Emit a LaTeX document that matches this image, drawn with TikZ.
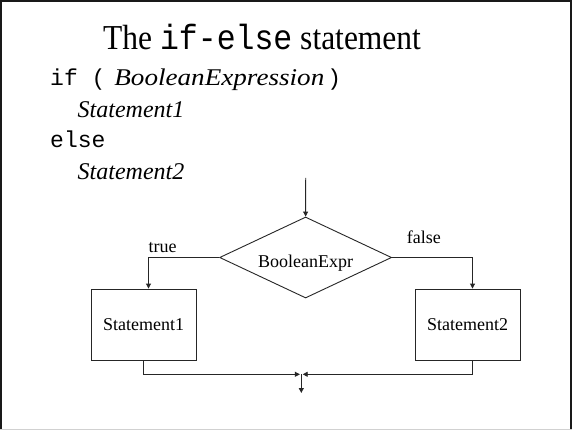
\documentclass[tikz,border=0pt]{standalone}
\usepackage{fontspec}
\setmainfont{Liberation Serif}
\setmonofont{Liberation Mono}
\usetikzlibrary{shapes.geometric,arrows.meta}
\begin{document}
\begin{tikzpicture}[x=1pt,y=-1pt,
  conn/.style={line width=0.9pt,draw=black!85},
  arr/.style={conn,-{Triangle[length=5pt,width=5pt]}},
  stmtbox/.style={draw=black!85,line width=0.9pt,minimum width=105pt,minimum height=71pt,inner sep=0pt,font=\fontsize{18}{20}\selectfont},
  cond/.style={draw=black!85,line width=0.9pt,diamond,minimum width=172pt,minimum height=81pt,inner sep=0pt},
  lbl/.style={font=\fontsize{18}{20}\selectfont,inner sep=0pt,anchor=base west},
  code/.style={inner sep=0pt,anchor=base west,font=\fontsize{23}{26}\selectfont},
  itcode/.style={inner sep=0pt,anchor=base west,font=\fontsize{24}{26}\selectfont\itshape}
]
\useasboundingbox (0,0) rectangle (572,430);
\fill[white] (0,0) rectangle (572,430);
% frame
\draw[line width=1.8pt,black!90] (1,430) -- (1,1) -- (571,1) -- (571,430);
\draw[line width=1pt,black!18] (0,429.5) -- (572,429.5);
% title
\node[inner sep=0pt,anchor=base west,font=\fontsize{35}{38}\selectfont] (title) at (103,49.3) {\scalebox{0.9}[1]{The \texttt{if-else} statement}};
% code
\node[code] (l1) at (50,86) {\texttt{if (}\hspace{9pt}{\fontsize{24}{26}\selectfont\itshape\scalebox{1.13}[1]{BooleanExpression}}\hspace{3pt}\texttt{)}};
\node[itcode] (l2) at (77.5,117.3) {Statement1};
\node[code] (l3) at (50,148) {\texttt{else}};
\node[itcode] (l4) at (77.5,179.5) {Statement2};
% flowchart
\coordinate (top) at (305.7,178);
\node[cond,label={[font=\fontsize{18}{20}\selectfont,inner sep=0pt,yshift=-5.5pt]center:BooleanExpr}] (d) at (305.6,257.5) {};
\node[stmtbox] (b1) at (143.5,324.5) {Statement1};
\node[stmtbox] (b2) at (467.5,324.5) {Statement2};
\coordinate (m) at (301.3,374.3);
\coordinate (end) at (301.3,393);
\draw[arr] (top) -- (d.north);
\draw[arr] (d.west) -| ([xshift=5pt]b1.north);
\draw[arr] (d.east) -| ([xshift=5pt]b2.north);
\node[lbl] (t) at (148.3,252.7) {true};
\node[lbl] (f) at (406.7,243.3) {false};
\draw[arr] (b1.south) |- ([xshift=-1.4pt]m);
\draw[arr] ([xshift=5pt]b2.south) |- ([xshift=1.4pt]m);
\draw[arr] (m) -- (end);
\end{tikzpicture}
\end{document}
